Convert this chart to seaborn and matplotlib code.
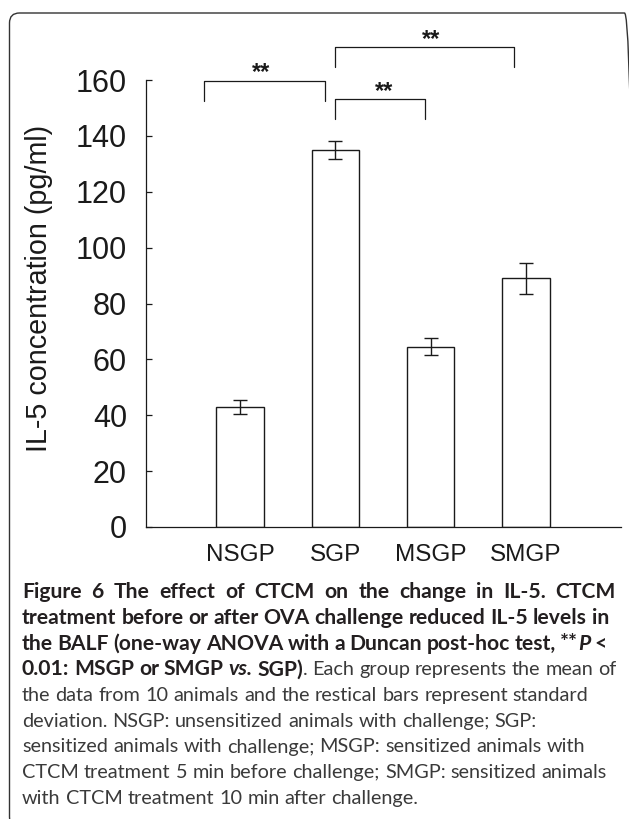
import matplotlib
matplotlib.use('Agg')
import matplotlib.pyplot as plt
import seaborn as sns
import pandas as pd
from matplotlib.patches import FancyBboxPatch
from matplotlib.transforms import IdentityTransform

# IL-5 in BALF, mean and SD per group
groups = ['NSGP', 'SGP', 'MSGP', 'SMGP']
means = [43.0, 135.0, 64.5, 89.0]
sds = [2.6, 3.1, 3.0, 5.6]
yticks = [0, 20, 40, 60, 80, 100, 120, 140, 160]
ylabel = 'IL-5 concentration (pg/ml)'

# significance brackets (x in category units, y in pg/ml)
sig_x0 = [-0.38, 1.0, 1.0]
sig_x1 = [0.89, 1.94, 2.88]
sig_top = [159.7, 153.1, 171.7]
sig_drop = 7.2
sig_star_x = [0.22, 1.51, 2.0]
sig_labels = ['**', '**', '**']

# caption: each line is a list of (text, style); b = bold, bi = bold italic, r = regular
caption_lines = [
    [('Figure 6 The effect of CTCM on the change in IL-5. CTCM', 'b')],
    [('treatment before or after OVA challenge reduced IL-5 levels in', 'b')],
    [('the BALF (one-way ANOVA with a Duncan post-hoc test, **', 'b'), ('P', 'bi'), (' <', 'b')],
    [('0.01: MSGP or SMGP ', 'b'), ('vs.', 'bi'), (' SGP)', 'b'),
     ('. Each group represents the mean of', 'r')],
    [('the data from 10 animals and the restical bars represent standard', 'r')],
    [('deviation. NSGP: unsensitized animals with challenge; SGP:', 'r')],
    [('sensitized animals with challenge; MSGP: sensitized animals with', 'r')],
    [('CTCM treatment 5 min before challenge; SMGP: sensitized animals', 'r')],
    [('with CTCM treatment 10 min after challenge.', 'r')],
]
caption_right = [616, 609, 607, 616, None, None, None, None, None]

W, H = 629, 819
ink = '#1a1a1a'

sns.set_style('ticks')
plt.rcParams['font.family'] = ['Liberation Sans', 'DejaVu Sans']

fig = plt.figure(figsize=(W / 100, H / 100), dpi=100)
ax = fig.add_axes([146 / W, 1 - 527 / H, 475 / W, 447 / H])

df = pd.DataFrame({'group': groups, 'mean': means})
sns.barplot(data=df, x='group', y='mean', ax=ax, color='white', saturation=1,
            edgecolor=ink, linewidth=1.0, width=0.5, errorbar=None)
ax.errorbar(range(len(groups)), means, yerr=sds, fmt='none', ecolor=ink,
            elinewidth=1.0, capsize=5, capthick=1.0, zorder=5)

ax.set_xlim(-0.99, 4.0)
ax.set_ylim(0, 160)
ax.set_yticks(yticks)
ax.tick_params(axis='y', direction='in', length=4.5, width=0.9, labelsize=22,
               pad=13.7, colors=ink)
ax.tick_params(axis='x', length=0, labelsize=17.5, pad=12.5, colors=ink)
sns.despine(ax=ax)
for side in ['left', 'bottom']:
    ax.spines[side].set_linewidth(0.9)
    ax.spines[side].set_color(ink)
ax.set_xlabel('')
ax.set_ylabel(ylabel, fontsize=20.7, color=ink)
ax.yaxis.set_label_coords(-0.195, 0.533)

for x0, x1, top, sx, lab in zip(sig_x0, sig_x1, sig_top, sig_star_x, sig_labels):
    ax.plot([x0, x0, x1, x1], [top - sig_drop, top, top, top - sig_drop],
            color=ink, lw=0.9, clip_on=False)
    ax.text(sx, top + 0.5, lab, ha='center', va='baseline', fontsize=17,
            fontweight='bold', color=ink, clip_on=False)

# rounded frame around the figure panel
frame = FancyBboxPatch((9.5, -8), 625, H - 13 + 8, boxstyle='round,pad=0,rounding_size=10',
                       transform=IdentityTransform(), fill=False, ec='#333333', lw=1.0)
fig.add_artist(frame)

# caption text
cap_font = 'Lato'
styles = {
    'b': dict(fontweight='bold', fontstyle='normal', color='#231f20'),
    'bi': dict(fontweight='bold', fontstyle='italic', color='#231f20'),
    'r': dict(fontweight='normal', fontstyle='normal', color='#3a3a3a'),
}
renderer = fig.canvas.get_renderer()


def measure(s, st, size):
    t = fig.text(0, 0, s, fontsize=size, family=cap_font,
                 transform=IdentityTransform(), **styles[st])
    w = t.get_window_extent(renderer).width
    t.remove()
    return w


size_b = 20 * (609 - 22) / measure(caption_lines[1][0][0], 'b', 20)
size_r = 20 * (591 - 22) / measure(caption_lines[4][0][0], 'r', 20)
sizes = {'b': size_b, 'bi': size_b, 'r': size_r}


def tokenize(line):
    out = []
    pending = False
    for seg, st in line:
        parts = seg.split(' ')
        for i, p in enumerate(parts):
            if i > 0:
                pending = True
            if p:
                out.append((p, st, pending and len(out) > 0))
                pending = False
    return out


cap_x0, cap_base0, cap_step = 22, 598, 25.75
for i, (line, right) in enumerate(zip(caption_lines, caption_right)):
    y = H - (cap_base0 + i * cap_step)
    toks = tokenize(line)
    widths = [measure(t, st, sizes[st]) for t, st, _ in toks]
    gaps = [(measure('a a', st, sizes[st]) - measure('aa', st, sizes[st])) if sp else 0
            for t, st, sp in toks]
    natural = sum(widths) + sum(gaps)
    n = sum(1 for tk in toks if tk[2])
    extra = (right - cap_x0 - natural) / n if (right and n) else 0
    x = cap_x0
    for (t, st, sp), w, g in zip(toks, widths, gaps):
        if sp:
            x += g + extra
        fig.text(x, y, t, fontsize=sizes[st], family=cap_font, ha='left',
                 va='baseline', transform=IdentityTransform(), **styles[st])
        x += w

fig.savefig('out.png', dpi=100)
